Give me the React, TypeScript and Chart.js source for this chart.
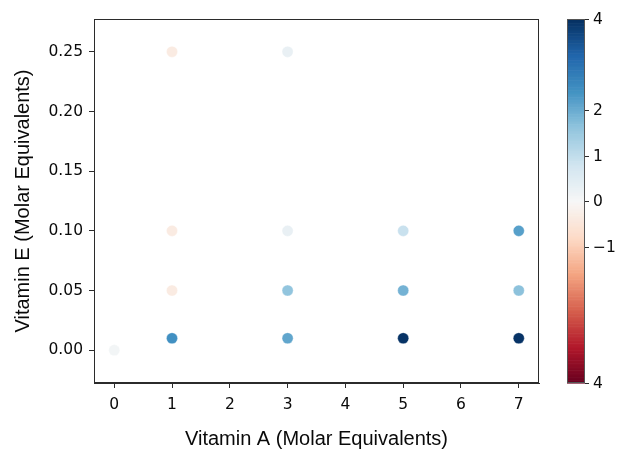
import React, { useEffect, useRef } from "react";
import { Chart, registerables } from "chart.js";

Chart.register(...registerables);

// ---- data ----
const vitaminA = [0, 1, 1, 1, 1, 3, 3, 3, 3, 5, 5, 5, 7, 7, 7];
const vitaminE = [0, 0.25, 0.1, 0.05, 0.01, 0.25, 0.1, 0.05, 0.01, 0.1, 0.05, 0.01, 0.1, 0.05, 0.01];
const effect = [0.1, -0.35, -0.35, -0.35, 2.45, 0.3, 0.3, 1.6, 2.1, 0.9, 1.9, 3.95, 2.2, 1.65, 3.95];

const xTicks = [0, 1, 2, 3, 4, 5, 6, 7];
const yTicks = [0, 0.05, 0.1, 0.15, 0.2, 0.25];
const cbarTicks = [4, 2, 1, 0, -1, -4];
const cbarTickLabels = ["4", "2", "1", "0", "\u22121", "4"];
const cbarMin = -4;
const cbarMax = 4;

const xTitle = "Vitamin A (Molar Equivalents)";
const yTitle = "Vitamin E (Molar Equivalents)";

// RdBu colormap stops
const rdbu = [
  "#67001f", "#b2182b", "#d6604d", "#f4a582", "#fddbc7", "#f7f7f7",
  "#d1e5f0", "#92c5de", "#4393c3", "#2166ac", "#053061",
];

function hexToRgb(h: string) {
  return [parseInt(h.slice(1, 3), 16), parseInt(h.slice(3, 5), 16), parseInt(h.slice(5, 7), 16)];
}
const rdbuRgb = rdbu.map(hexToRgb);

function colorAt(v: number) {
  let t = (v - cbarMin) / (cbarMax - cbarMin);
  t = Math.max(0, Math.min(1, t));
  const p = t * (rdbuRgb.length - 1);
  const i = Math.min(Math.floor(p), rdbuRgb.length - 2);
  const f = p - i;
  const a = rdbuRgb[i];
  const b = rdbuRgb[i + 1];
  const c = a.map((x, k) => Math.round(x + (b[k] - x) * f));
  return `rgb(${c[0]},${c[1]},${c[2]})`;
}

const TICK_FONT = "'DejaVu Sans', sans-serif";
const TITLE_FONT = "'Liberation Sans', Arial, sans-serif";
const FRAME = "#2b2b2b";
const TEXT = "#0a0a0a";
const TICK_SIZE = 15.5;

const AREA = { left: 94, top: 19, right: 539, bottom: 383 };
const CBAR = { left: 567, right: 585 };

const framePlugin = {
  id: "frameAndColorbar",
  afterDraw(chart: any) {
    const ctx = chart.ctx;
    const a = chart.chartArea;
    ctx.save();
    // frame
    ctx.strokeStyle = FRAME;
    ctx.lineWidth = 1;
    ctx.strokeRect(a.left + 0.5, a.top + 0.5, a.right - a.left - 1, a.bottom - a.top - 1);

    // colorbar
    const top = a.top;
    const bottom = a.bottom;
    const h = bottom - top;
    const n = 256;
    for (let i = 0; i < n; i++) {
      const v = cbarMin + ((i + 0.5) / n) * (cbarMax - cbarMin);
      const y0 = bottom - (i / n) * h;
      const y1 = bottom - ((i + 1) / n) * h;
      ctx.fillStyle = colorAt(v);
      ctx.fillRect(CBAR.left, y1, CBAR.right - CBAR.left, y0 - y1 + 0.6);
    }
    ctx.strokeStyle = "#555";
    ctx.strokeRect(CBAR.left + 0.5, top + 0.5, CBAR.right - CBAR.left - 1, h - 1);

    ctx.fillStyle = TEXT;
    ctx.font = `${TICK_SIZE}px ${TICK_FONT}`;
    ctx.textAlign = "left";
    ctx.textBaseline = "middle";
    cbarTicks.forEach((v, i) => {
      const y = Math.round(bottom - ((v - cbarMin) / (cbarMax - cbarMin)) * h) + 0.5;
      ctx.strokeStyle = FRAME;
      ctx.beginPath();
      ctx.moveTo(CBAR.right, y);
      ctx.lineTo(CBAR.right + 4, y);
      ctx.stroke();
      ctx.fillText(cbarTickLabels[i], CBAR.right + 8, y);
    });
    ctx.restore();
  },
};

export default function App() {
  const ref = useRef<HTMLCanvasElement>(null);

  useEffect(() => {
    const canvas = ref.current!;
    const points = vitaminA.map((x, i) => ({ x, y: vitaminE[i] }));
    const chart = new Chart(canvas, {
      type: "scatter",
      data: {
        datasets: [
          {
            data: points,
            backgroundColor: (c: any) => colorAt(effect[c.dataIndex] ?? 0),
            borderColor: "rgba(255,255,255,0.8)",
            borderWidth: 0.5,
            pointRadius: 5.6,
            pointHoverRadius: 5.6,
          },
        ],
      },
      options: {
        animation: false,
        responsive: false,
        maintainAspectRatio: false,
        events: [],
        layout: { padding: { top: AREA.top, right: 619 - AREA.right, left: 0, bottom: 0 } },
        plugins: { legend: { display: false }, tooltip: { enabled: false } },
        scales: {
          x: {
            type: "linear",
            min: -0.35,
            max: 7.35,
            afterBuildTicks: (s: any) => {
              s.ticks = xTicks.map((v) => ({ value: v }));
            },
            afterFit: (s: any) => {
              s.height = 450 - AREA.bottom;
            },
            grid: { drawOnChartArea: false, drawTicks: true, tickLength: 5, color: FRAME },
            border: { display: true, color: FRAME },
            ticks: {
              color: TEXT,
              font: { family: TICK_FONT, size: TICK_SIZE },
              padding: 8,
              maxRotation: 0,
              callback: (v: any) => String(v),
            },
            title: {
              display: true,
              text: xTitle,
              color: TEXT,
              font: { family: TITLE_FONT, size: 20, lineHeight: 1.1 },
              padding: { top: 0, bottom: 0 },
            },
          },
          y: {
            type: "linear",
            min: -0.0275,
            max: 0.2775,
            afterBuildTicks: (s: any) => {
              s.ticks = yTicks.map((v) => ({ value: v }));
            },
            afterFit: (s: any) => {
              s.width = AREA.left;
            },
            grid: { drawOnChartArea: false, drawTicks: true, tickLength: 5, color: FRAME },
            border: { display: true, color: FRAME },
            ticks: {
              color: TEXT,
              font: { family: TICK_FONT, size: TICK_SIZE },
              padding: 6,
              callback: (v: any) => Number(v).toFixed(2),
            },
            title: {
              display: true,
              text: yTitle,
              color: TEXT,
              font: { family: TITLE_FONT, size: 20 },
              padding: { top: 11, bottom: 0 },
            },
          },
        },
      },
      plugins: [framePlugin],
    } as any);
    return () => chart.destroy();
  }, []);

  return (
    <div style={{ position: "fixed", left: 0, top: 0, width: 619, height: 450, background: "#fff" }}>
      <canvas ref={ref} width={619} height={450} style={{ width: 619, height: 450, display: "block" }} />
    </div>
  );
}
